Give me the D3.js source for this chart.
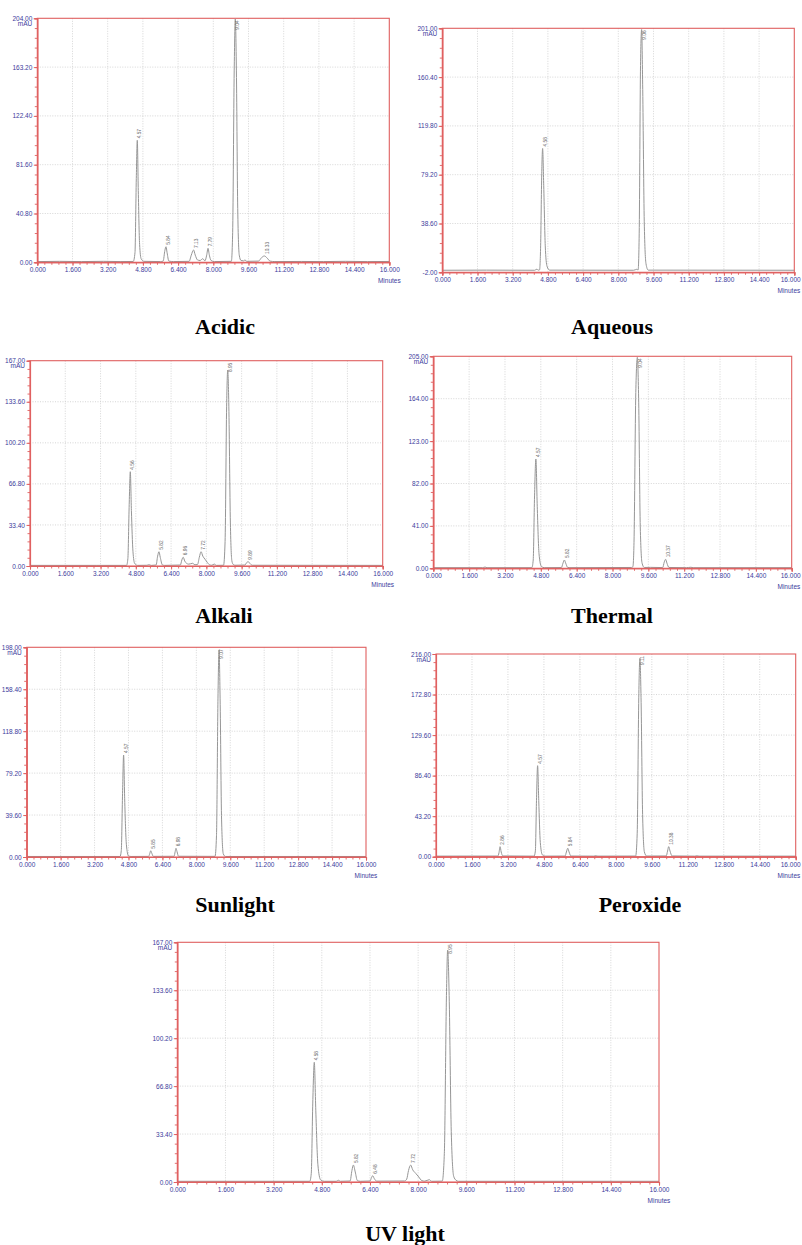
<!DOCTYPE html>
<html>
<head>
<meta charset="utf-8">
<script src="https://cdn.jsdelivr.net/npm/d3@7"></script>
<style>
  body { margin: 0; background: #fff; }
  svg { display: block; }
</style>
</head>
<body>
<svg id="chart" width="802" height="1245"></svg>
<script>
// ---- data (time in min, response in mAU) ----
var xTickLabels = ["0.000", "1.600", "3.200", "4.800", "6.400", "8.000", "9.600", "11.200", "12.800", "14.400", "16.000"];

var acidicYTicks = ["0.00", "40.80", "81.60", "122.40", "163.20", "204.00"];
var acidicTrace = [[0,0.6],[1.0,0.8],[2.0,0.6],[3.0,0.8],[3.8,0.6],[4.36,0.7],[4.44,8],[4.50,70],[4.545,102],[4.59,60],[4.65,15],[4.72,3],[4.85,0.8],[5.6,0.6],[5.72,1],[5.80,10],[5.85,13],[5.90,8],[5.98,1],[6.2,0.6],[6.9,0.8],[7.0,6],[7.10,10.3],[7.18,6],[7.28,2],[7.40,1.5],[7.52,3],[7.62,1.2],[7.70,6],[7.76,11.7],[7.82,6],[7.90,1.5],[8.05,0.6],[8.82,0.8],[8.88,25],[8.95,160],[9.0,203.4],[9.05,160],[9.11,45],[9.18,6],[9.26,1.5],[9.38,1.2],[9.44,2],[9.52,0.8],[10.05,1],[10.2,4],[10.32,5.3],[10.45,3.5],[10.58,1],[10.8,0.6],[12,0.7],[13,0.6],[14,0.8],[15,0.6],[16,0.7]];
var acidicPeaks = [[4.545,"4.57"],[5.85,"5.84"],[7.10,"7.13"],[7.76,"7.79"],[9.0,"9.04"],[10.32,"10.33"]];

var aqueousYTicks = ["-2.00", "38.60", "79.20", "119.80", "160.40", "201.00"];
var aqueousTrace = [[0,-0.3],[2,-0.2],[4.2,-0.3],[4.30,0.6],[4.36,-0.2],[4.42,0],[4.47,20],[4.52,80],[4.56,101],[4.61,70],[4.68,20],[4.76,3],[4.88,-0.2],[8.7,-0.3],[8.84,0.5],[8.90,-0.1],[8.95,30],[9.01,170],[9.06,200],[9.11,150],[9.18,40],[9.26,5],[9.36,-0.2],[16,-0.3]];
var aqueousPeaks = [[4.56,"4.58"],[9.06,"9.06"]];

var alkaliYTicks = ["0.00", "33.40", "66.80", "100.20", "133.60", "167.00"];
var alkaliTrace = [[0,0.5],[3,0.5],[4.38,0.5],[4.44,6],[4.50,50],[4.55,76.7],[4.60,45],[4.67,12],[4.75,2],[4.88,0.5],[5.3,0.6],[5.4,1],[5.5,0.5],[5.72,0.8],[5.79,8],[5.85,11.6],[5.91,7],[6.0,1],[6.1,0.5],[6.82,0.8],[6.89,5],[6.95,7.1],[7.02,4],[7.1,2.2],[7.2,1.5],[7.38,2.2],[7.48,1],[7.60,1.2],[7.68,7],[7.76,11.6],[7.84,8],[7.94,5.5],[8.04,3],[8.14,1],[8.25,0.6],[8.36,1.6],[8.45,0.5],[8.78,0.6],[8.85,20],[8.92,130],[8.97,159.4],[9.02,130],[9.09,35],[9.16,4],[9.22,1.2],[9.30,0.6],[9.75,0.8],[9.83,2.8],[9.90,3.5],[9.98,2],[10.08,0.6],[16,0.5]];
var alkaliPeaks = [[4.55,"4.56"],[5.85,"5.82"],[6.95,"6.96"],[7.76,"7.72"],[8.97,"8.95"],[9.90,"9.89"]];

var thermalYTicks = ["0.00", "41.00", "82.00", "123.00", "164.00", "205.00"];
var thermalTrace = [[0,0.6],[2.2,0.6],[2.31,1.2],[2.4,0.6],[4.40,0.6],[4.46,8],[4.52,70],[4.58,105.7],[4.64,60],[4.72,14],[4.82,2],[4.95,0.6],[5.72,0.7],[5.79,5],[5.85,8],[5.91,5],[6.0,0.8],[6.1,0.6],[8.85,0.8],[8.91,1.5],[8.96,25],[9.04,170],[9.11,204],[9.17,160],[9.24,40],[9.32,5],[9.42,0.8],[9.7,0.9],[10.24,0.7],[10.31,6],[10.37,8.7],[10.43,5],[10.52,0.8],[11.3,0.6],[11.5,1],[11.6,0.6],[16,0.6]];
var thermalPeaks = [[4.58,"4.57"],[5.85,"5.82"],[9.11,"9.04"],[10.37,"10.37"]];

var sunlightYTicks = ["0.00", "39.60", "79.20", "118.80", "158.40", "198.00"];
var sunlightTrace = [[0,0.5],[4.40,0.5],[4.46,6],[4.52,60],[4.57,96.3],[4.62,55],[4.70,12],[4.80,1],[4.92,0.5],[5.75,0.6],[5.80,3],[5.85,5.9],[5.90,3.5],[5.97,0.6],[6.95,0.7],[7.0,5],[7.04,8.2],[7.09,5],[7.16,0.7],[8.88,0.6],[8.95,20],[9.02,150],[9.07,195.4],[9.12,150],[9.19,35],[9.27,3],[9.37,0.5],[16,0.5]];
var sunlightPeaks = [[4.57,"4.57"],[5.85,"5.85"],[7.04,"6.98"],[9.07,"9.07"]];

var peroxideYTicks = ["0.00", "43.20", "86.40", "129.60", "172.80", "216.00"];
var peroxideTrace = [[0,0.6],[2.75,0.7],[2.80,4],[2.85,10.7],[2.90,5],[2.97,0.8],[4.36,0.6],[4.42,6],[4.47,60],[4.52,97],[4.57,60],[4.64,15],[4.73,2],[4.85,0.6],[5.74,0.7],[5.80,5],[5.86,9],[5.92,5],[6.0,0.7],[7.0,0.6],[7.1,1.1],[7.2,0.6],[8.88,0.7],[8.95,25],[9.02,170],[9.07,211.4],[9.12,170],[9.19,45],[9.27,5],[9.37,0.7],[10.24,0.8],[10.30,6],[10.35,10.7],[10.41,6],[10.50,0.8],[11.5,0.6],[11.6,1],[11.7,0.6],[16,0.6]];
var peroxidePeaks = [[2.85,"2.86"],[4.52,"4.57"],[5.86,"5.84"],[9.07,"9.11"],[10.35,"10.38"]];

var uvYTicks = ["0.00", "33.40", "66.80", "100.20", "133.60", "167.00"];
var uvTrace = [[0,0.5],[4.40,0.5],[4.45,6],[4.50,55],[4.55,83.4],[4.60,50],[4.67,12],[4.76,1.5],[4.88,0.5],[5.28,0.5],[5.35,1.2],[5.42,0.5],[5.74,0.7],[5.80,8],[5.85,11.8],[5.91,7],[5.98,1],[6.08,0.5],[6.40,0.7],[6.45,3],[6.49,4.4],[6.54,2.5],[6.62,0.6],[7.55,0.7],[7.62,2],[7.68,8],[7.75,11.8],[7.82,8.5],[7.92,6],[8.02,3.5],[8.12,1],[8.22,0.6],[8.37,1.6],[8.45,0.5],[8.80,0.6],[8.87,20],[8.94,130],[8.98,161.6],[9.03,130],[9.10,35],[9.18,4],[9.26,1.2],[9.34,0.5],[16,0.5]];
var uvPeaks = [[4.55,"4.58"],[5.85,"5.82"],[6.49,"6.48"],[7.75,"7.72"],[8.98,"8.95"]];

var titles = ["Acidic", "Aqueous", "Alkali", "Thermal", "Sunlight", "Peroxide", "UV light"];

// ---- layout of the seven panels ----
var panels = [
  {title: titles[0], trace: acidicTrace, peaks: acidicPeaks, yTicks: acidicYTicks, box: [37.3, 18.3, 389.3, 262.3], tx: 225, ty: 334},
  {title: titles[1], trace: aqueousTrace, peaks: aqueousPeaks, yTicks: aqueousYTicks, box: [442.3, 28.3, 794.3, 272.3], tx: 612, ty: 334},
  {title: titles[2], trace: alkaliTrace, peaks: alkaliPeaks, yTicks: alkaliYTicks, box: [30, 360.7, 382.7, 566], tx: 224, ty: 623},
  {title: titles[3], trace: thermalTrace, peaks: thermalPeaks, yTicks: thermalYTicks, box: [433.3, 356.3, 791.7, 568.3], tx: 612, ty: 623},
  {title: titles[4], trace: sunlightTrace, peaks: sunlightPeaks, yTicks: sunlightYTicks, box: [26.7, 647.3, 366, 857], tx: 235, ty: 912},
  {title: titles[5], trace: peroxideTrace, peaks: peroxidePeaks, yTicks: peroxideYTicks, box: [436, 654, 795.7, 856.7], tx: 640, ty: 912},
  {title: titles[6], trace: uvTrace, peaks: uvPeaks, yTicks: uvYTicks, box: [177.3, 942.3, 659, 1182], tx: 405, ty: 1241}
];

var svg = d3.select("#chart");
var axisRed = "#e06060",
    tickBlue = "#3c3c9c",
    gridGray = "#cccccc",
    traceGray = "#969696";

panels.forEach(drawPanel);

// keep labels that would run past the right edge inside the page
svg.selectAll("text").each(function(){
  var b = this.getBoundingClientRect();
  if (b.right > 801) {
    var shift = b.right - 801;
    var t = d3.select(this);
    t.attr("dx", (+t.attr("dx") || 0) - shift);
  }
});

function drawPanel(p){
  var L = p.box[0], T = p.box[1], R = p.box[2], B = p.box[3];
  var yVals = p.yTicks.map(Number);
  var xVals = xTickLabels.map(Number);

  var x = d3.scaleLinear().domain([0, 16]).range([L, R]);
  var y = d3.scaleLinear().domain([yVals[0], yVals[yVals.length - 1]]).range([B, T]);

  var g = svg.append("g");

  // dotted grid
  g.selectAll(".vgrid").data(xVals.slice(1, -1)).enter().append("line")
    .attr("x1", function(d){ return x(d); }).attr("x2", function(d){ return x(d); })
    .attr("y1", T).attr("y2", B)
    .attr("stroke", gridGray).attr("stroke-width", 0.8).attr("stroke-dasharray", "1,1.5");
  g.selectAll(".hgrid").data(yVals.slice(1, -1)).enter().append("line")
    .attr("x1", L).attr("x2", R)
    .attr("y1", function(d){ return y(d); }).attr("y2", function(d){ return y(d); })
    .attr("stroke", gridGray).attr("stroke-width", 0.8).attr("stroke-dasharray", "1,1.5");

  // chromatogram trace
  var line = d3.line()
    .x(function(d){ return x(d[0]); })
    .y(function(d){ return y(d[1]); })
    .curve(d3.curveMonotoneX);
  g.append("path").datum(p.trace)
    .attr("d", line)
    .attr("fill", "none")
    .attr("stroke", traceGray)
    .attr("stroke-width", 1);

  // peak retention-time labels
  function apex(d){
    return d3.max(p.trace.filter(function(q){ return Math.abs(q[0] - d[0]) < 0.08; }), function(q){ return q[1]; });
  }
  g.selectAll(".plab").data(p.peaks).enter().append("text")
    .attr("transform", function(d){
      var py = y(apex(d)) - 2;
      var tooHigh = py - 13 < T;
      return "translate(" + (x(d[0]) + 2.5) + "," + (tooHigh ? T + 2 : py) + ") rotate(-90)";
    })
    .attr("text-anchor", function(d){
      return (y(apex(d)) - 15 < T) ? "end" : "start";
    })
    .attr("dy", "0.35em")
    .style("font-family", "Liberation Sans, Arial, sans-serif")
    .style("font-size", "4.8px")
    .attr("fill", "#6a6a6a")
    .text(function(d){ return d[1]; });

  // frame
  g.append("rect")
    .attr("x", L).attr("y", T).attr("width", R - L).attr("height", B - T)
    .attr("fill", "none").attr("stroke", axisRed).attr("stroke-width", 1.1);

  // minor ticks
  var xMinor = d3.range(0, 16.0001, 0.32);
  var yStep = (yVals[1] - yVals[0]) / 5;
  var yMinor = d3.range(0, 26).map(function(i){ return yVals[0] + i * yStep; });

  var xAxisMinor = d3.axisBottom(x).tickValues(xMinor).tickSize(2.5).tickFormat("");
  var yAxisMinor = d3.axisLeft(y).tickValues(yMinor).tickSize(2.5).tickFormat("");
  var xAxis = d3.axisBottom(x).tickValues(xVals).tickSize(3.5).tickPadding(2)
    .tickFormat(function(d, i){ return xTickLabels[i]; });
  var yAxis = d3.axisLeft(y).tickValues(yVals).tickSize(3.5).tickPadding(1.5)
    .tickFormat(function(d, i){ return p.yTicks[i]; });

  [xAxisMinor, xAxis].forEach(function(ax){
    var a = g.append("g").attr("transform", "translate(0," + B + ")").call(ax);
    styleAxis(a);
  });
  [yAxisMinor, yAxis].forEach(function(ax){
    var a = g.append("g").attr("transform", "translate(" + L + ",0)").call(ax);
    styleAxis(a);
  });

  // unit labels
  g.append("text")
    .attr("x", L - 5).attr("y", T + 7.5)
    .attr("text-anchor", "end")
    .style("font-family", "Liberation Sans, Arial, sans-serif")
    .style("font-size", "6.5px")
    .attr("fill", tickBlue)
    .text("mAU");
  g.append("text")
    .attr("x", R).attr("y", B + 21)
    .attr("text-anchor", "middle")
    .style("font-family", "Liberation Sans, Arial, sans-serif")
    .style("font-size", "6.5px")
    .attr("fill", tickBlue)
    .text("Minutes");

  // panel title
  svg.append("text")
    .attr("x", p.tx).attr("y", p.ty)
    .attr("text-anchor", "middle")
    .style("font-family", "Liberation Serif, Times New Roman, serif")
    .style("font-weight", "bold")
    .style("font-size", "22px")
    .attr("fill", "#000")
    .text(p.title);
}

function styleAxis(a){
  a.select(".domain").attr("stroke", axisRed).attr("stroke-width", 1.1);
  a.selectAll(".tick line").attr("stroke", axisRed).attr("stroke-width", 0.9);
  a.selectAll(".tick text")
    .style("font-family", "Liberation Sans, Arial, sans-serif")
    .style("font-size", "6.5px")
    .attr("fill", tickBlue);
}
</script>
</body>
</html>
